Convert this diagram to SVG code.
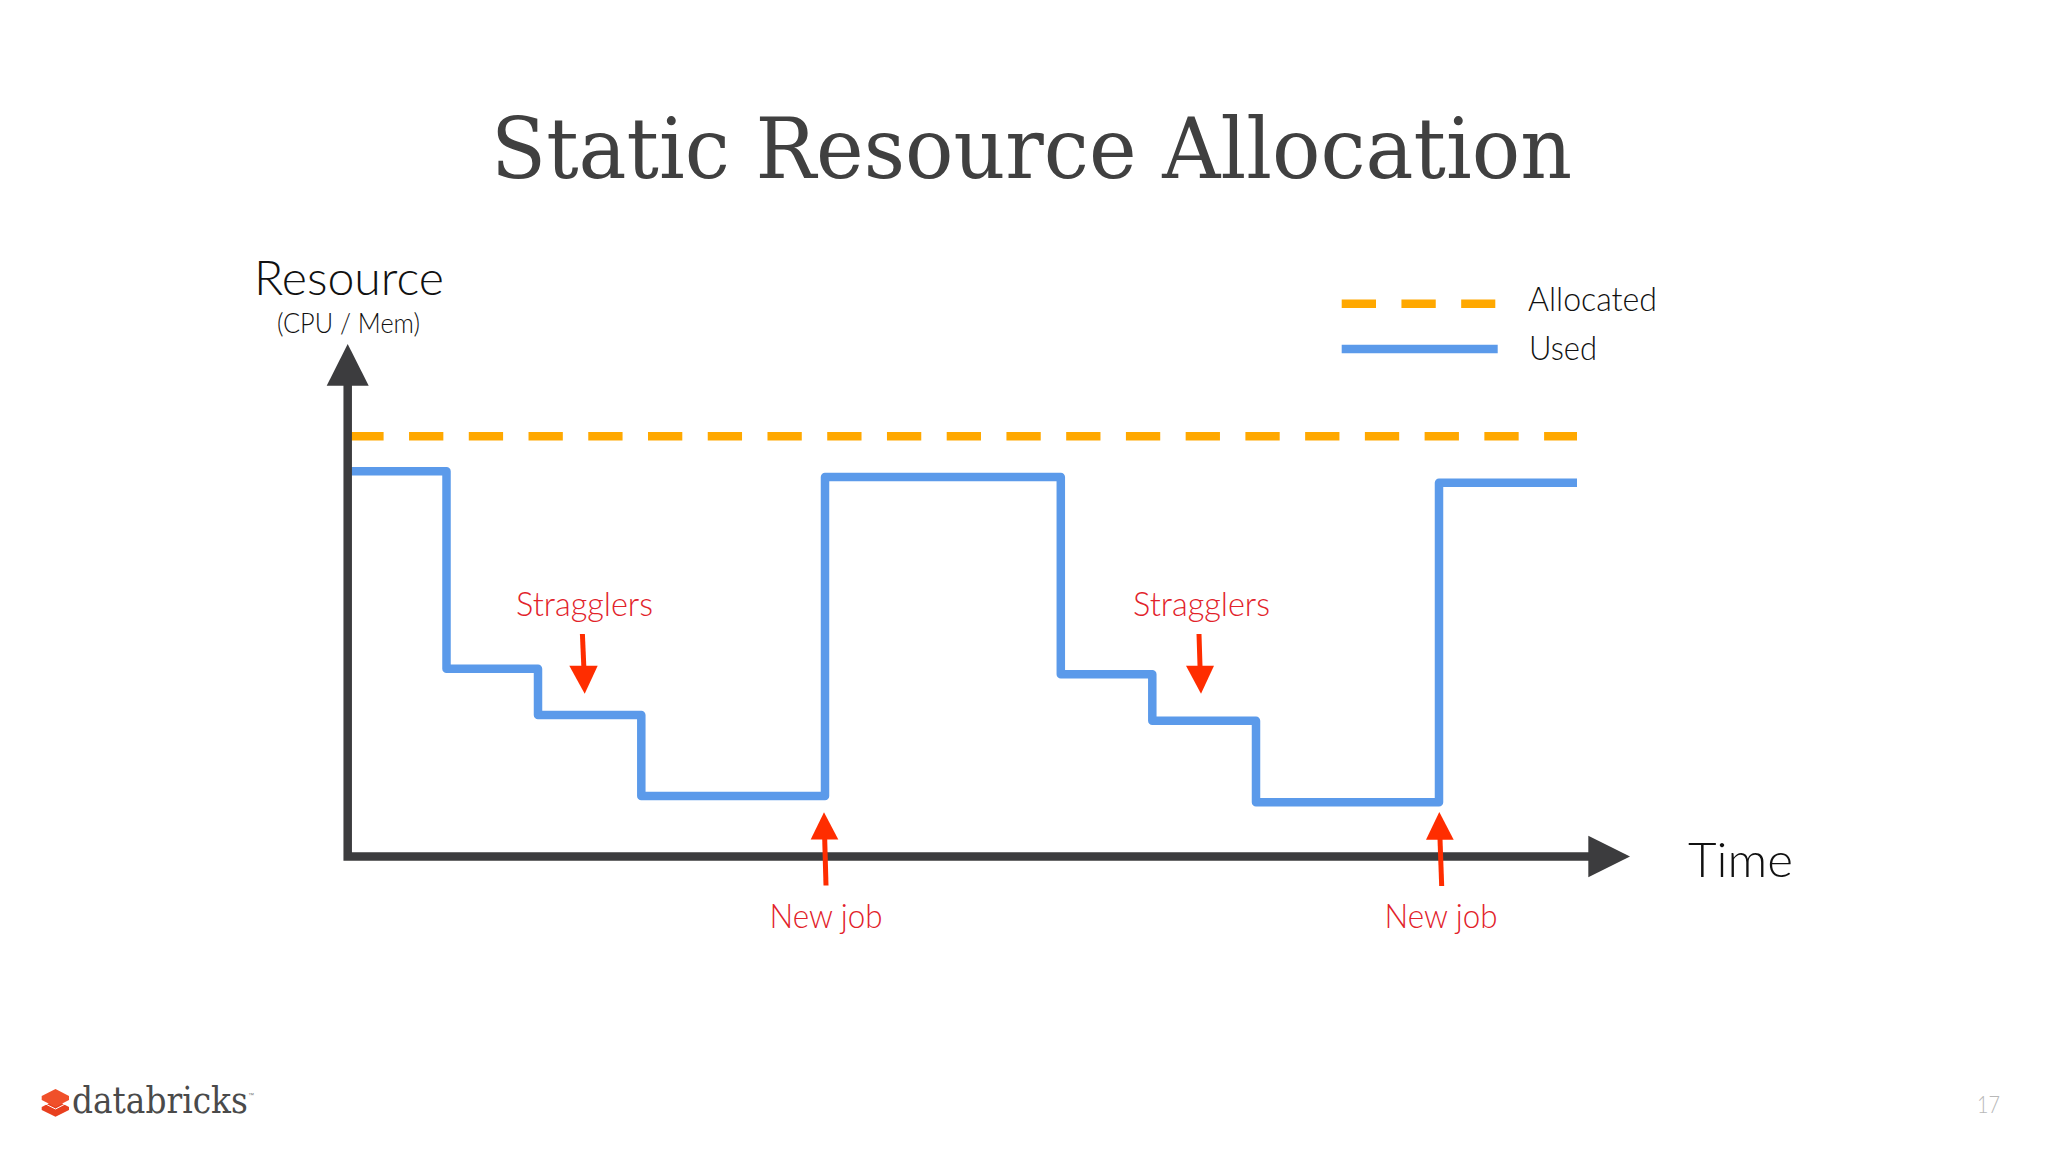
<svg xmlns="http://www.w3.org/2000/svg" width="2048" height="1152" viewBox="0 0 2048 1152">
<style>
.l{font-family:"Lato","Noto Sans",sans-serif;font-weight:300}
.k{fill:#111}
.r{fill:#e2222a}
.ax{stroke:#3c3c3e;stroke-width:8.5;fill:none}
.hd{fill:#3c3c3e}
.used{stroke:#5b9aea;stroke-width:8.5;fill:none;stroke-linejoin:round}
.alloc{stroke:#ffa800;stroke-width:8.6;fill:none;stroke-dasharray:34.3 25.44}
.ra{stroke:#ff2d00;stroke-width:5;fill:none}
.rh{fill:#ff2d00}
.slab{font-family:"DejaVu Serif",serif}
</style>
<rect width="2048" height="1152" fill="#fff"/>
<g id="title"><text class="slab" x="491" y="178" font-size="85" fill="#404040" textLength="1081" lengthAdjust="spacingAndGlyphs">Static Resource Allocation</text></g>
<g id="connectors">
<path class="alloc" d="M349.3 436.3H1577"/>
<path class="used" d="M348 471.3H446.5V668.7H538V715H641.3V796H825V477H1060.8V674.3H1152.3V720.7H1256V802.3H1439V482.7H1577"/>
<path class="ax" d="M347.7 385V856.5H1589"/>
<path class="hd" d="M347.7 344L368.7 385.7H326.7Z"/>
<path class="hd" d="M1630 856.5L1588.3 877.3V835.7Z"/>
<path class="ra" d="M582.4 634L583.8 666"/>
<path class="rh" d="M569.3 665.7H597.7L584.7 693.7Z"/>
<path class="ra" d="M826 885.5L824.7 839"/>
<path class="rh" d="M810.7 839.5H838.3L824 812.3Z"/>
<path class="ra" d="M1199 634L1200 666"/>
<path class="rh" d="M1186 665.7H1214L1201 693.7Z"/>
<path class="ra" d="M1441.7 886L1440 839"/>
<path class="rh" d="M1426 839.7H1453.7L1439.3 812Z"/>
</g>
<g id="legend">
<path class="alloc" d="M1341.7 303.7H1495.3"/>
<path d="M1341.7 349H1497.7" stroke="#5b9aea" stroke-width="8.6"/>
<text class="l k" x="1528" y="311" font-size="33" textLength="129" lengthAdjust="spacingAndGlyphs">Allocated</text>
<text class="l k" x="1529" y="360" font-size="33" textLength="68" lengthAdjust="spacingAndGlyphs">Used</text>
</g>
<g id="y-label">
<text class="l k" x="254" y="295" font-size="47" textLength="190" lengthAdjust="spacingAndGlyphs">Resource</text>
<text class="l k" x="277" y="333" font-size="27" textLength="143" lengthAdjust="spacingAndGlyphs">(CPU / Mem)</text>
</g>
<g id="x-label"><text class="l k" x="1688" y="877" font-size="48" textLength="105" lengthAdjust="spacingAndGlyphs">Time</text></g>
<g id="stragglers-1"><text class="l r" x="516" y="616" font-size="33" textLength="137" lengthAdjust="spacingAndGlyphs">Stragglers</text></g>
<g id="stragglers-2"><text class="l r" x="1133" y="616" font-size="33" textLength="137" lengthAdjust="spacingAndGlyphs">Stragglers</text></g>
<g id="newjob-1"><text class="l r" x="769.5" y="928" font-size="33" textLength="113" lengthAdjust="spacingAndGlyphs">New job</text></g>
<g id="newjob-2"><text class="l r" x="1384.5" y="928" font-size="33" textLength="113" lengthAdjust="spacingAndGlyphs">New job</text></g>
<g id="logo">
<path fill="#e8401f" d="M55.5 1100L69 1107V1110L55.5 1116.7L41.7 1110V1107Z"/>
<path fill="#f0502a" d="M55.5 1089L69 1096V1100L55.5 1107L41.7 1100V1096Z"/>
<path fill="none" stroke="#fff" stroke-width="1" d="M41.7 1102L55.5 1109L69 1102"/>
<text class="slab" transform="translate(72 1113) scale(.865 1)" font-size="38" fill="#4a4a4a">databricks</text>
<text x="248" y="1097" font-size="6" fill="#777" font-family="Liberation Sans,sans-serif">™</text>
</g>
<g id="page"><text class="l" x="1977" y="1113" font-size="24" fill="#b8b8b8" textLength="23" lengthAdjust="spacingAndGlyphs">17</text></g>
</svg>
